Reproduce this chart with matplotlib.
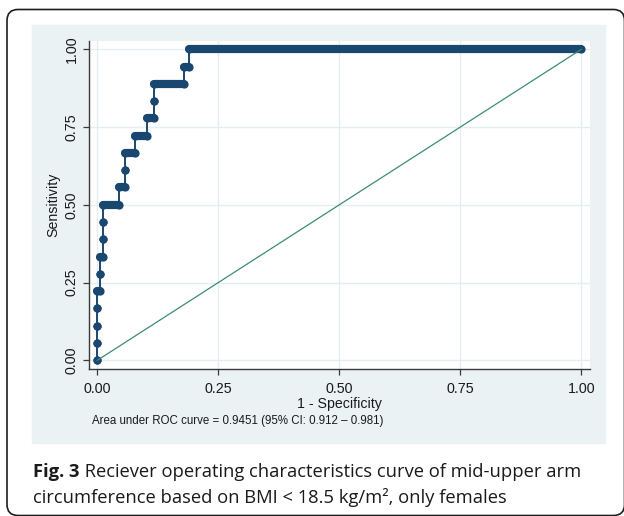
import matplotlib
matplotlib.use("Agg")
import matplotlib.pyplot as plt
from matplotlib.patches import Rectangle, FancyBboxPatch
from matplotlib.transforms import IdentityTransform

# ROC curve: one row per sensitivity level,
# with the 1 - specificity range that the level covers
sens_levels = [0.000, 0.056, 0.111, 0.167, 0.222, 0.278, 0.333, 0.389, 0.444, 0.500,
               0.556, 0.611, 0.667, 0.722, 0.778, 0.833, 0.889, 0.944, 1.000]
fpr_start = [0.000, 0.000, 0.000, 0.000, 0.000, 0.006, 0.006, 0.012, 0.012, 0.012,
             0.045, 0.058, 0.058, 0.078, 0.102, 0.118, 0.118, 0.179, 0.190]
fpr_end = [0.000, 0.000, 0.000, 0.000, 0.006, 0.006, 0.012, 0.012, 0.012, 0.045,
           0.058, 0.058, 0.078, 0.102, 0.118, 0.118, 0.179, 0.190, 1.000]
ticks = [0.00, 0.25, 0.50, 0.75, 1.00]
tick_labels = ["0.00", "0.25", "0.50", "0.75", "1.00"]
ref_line = [0.0, 1.0]

note = "Area under ROC curve = 0.9451 (95% CI: 0.912 \u2013 0.981)"
cap_bold = "Fig. 3"
cap_line1 = " Reciever operating characteristics curve of mid-upper arm"
cap_line2 = "circumference based on BMI < 18.5 kg/m\u00b2, only females"

W, H = 624, 516
NAVY = "#1A476F"
GREEN = "#3C8C76"
BG = "#EAF2F3"

plt.rcParams["font.family"] = ["Liberation Sans", "DejaVu Sans"]

fig = plt.figure(figsize=(W / 100, H / 100), dpi=100)
fig.patch.set_facecolor("white")


def fx(px):
    return px / W


def fy(py):
    return 1 - py / H


# light graph region + rounded frame round the whole figure
fig.patches.append(Rectangle((fx(31.7), fy(443.3)), (605 - 31.7) / W, (443.3 - 25) / H,
                             transform=fig.transFigure, color=BG, zorder=-2))
fig.patches.append(FancyBboxPatch((7, H - 515.5), 624.5 - 7, 515.5 - 9.5,
                                  boxstyle="round,pad=0,rounding_size=11",
                                  transform=IdentityTransform(), fill=False,
                                  ec="#1e1e1e", lw=1.2, zorder=-1))

ax = fig.add_axes([fx(88.7), fy(369.3), (590 - 88.7) / W, (369.3 - 40.7) / H])
ax.set_facecolor("white")
ax.set_xlim(-0.0178, 1.018)
ax.set_ylim(-0.0289, 1.0277)

# curve path through every start/end point
xs, ys = [], []
for y, s, e in zip(sens_levels, fpr_start, fpr_end):
    xs += [s, e]
    ys += [y, y]
ax.plot(xs, ys, color=NAVY, lw=1.4, zorder=3)
for y, s, e in zip(sens_levels, fpr_start, fpr_end):
    if e > s:
        ax.plot([s, e], [y, y], color=NAVY, lw=5.9, solid_capstyle="round", zorder=3)
ax.plot(xs, ys, "o", color=NAVY, ms=5.9, mew=0, zorder=3)

ax.plot(ref_line, ref_line, color=GREEN, lw=0.9, zorder=4)

ax.set_xticks(ticks)
ax.set_xticklabels(tick_labels)
ax.set_yticks(ticks)
ax.set_yticklabels(tick_labels, rotation=90, va="center")
ax.grid(color="#E4EEF0", lw=1.0)
ax.set_axisbelow(True)
for sp in ["top", "right"]:
    ax.spines[sp].set_visible(False)
for sp in ["left", "bottom"]:
    ax.spines[sp].set_color("#3a3a3a")
    ax.spines[sp].set_linewidth(1.0)
ax.tick_params(length=4, width=0.9, color="#3a3a3a", labelsize=10.3, labelcolor="#1a1a1a")
ax.tick_params(axis="x", pad=5)
ax.tick_params(axis="y", pad=3)

ax.set_xlabel("1 - Specificity", fontsize=10.2, color="#1a1a1a", labelpad=1)
ax.set_ylabel("Sensitivity", fontsize=10.2, color="#1a1a1a", labelpad=3.5)

fig.text(fx(91.7), fy(420.7), note, fontsize=8.3, color="#1a1a1a", va="center", ha="left")

# caption under the graph
cap_font = ["Open Sans", "DejaVu Sans"]
t1 = fig.text(fx(33), fy(477), cap_bold, fontsize=13.2, weight="bold", family=cap_font,
              va="baseline", ha="left", color="#1a1a1a")
fig.add_artist(plt.Annotation(cap_line1, xy=(1, 0), xycoords=t1, va="bottom", ha="left",
                              fontsize=13.2, family=cap_font, color="#1a1a1a"))
fig.text(fx(33), fy(503), cap_line2, fontsize=13.2, family=cap_font,
         va="baseline", ha="left", color="#1a1a1a")

fig.savefig("out.png", dpi=100)
